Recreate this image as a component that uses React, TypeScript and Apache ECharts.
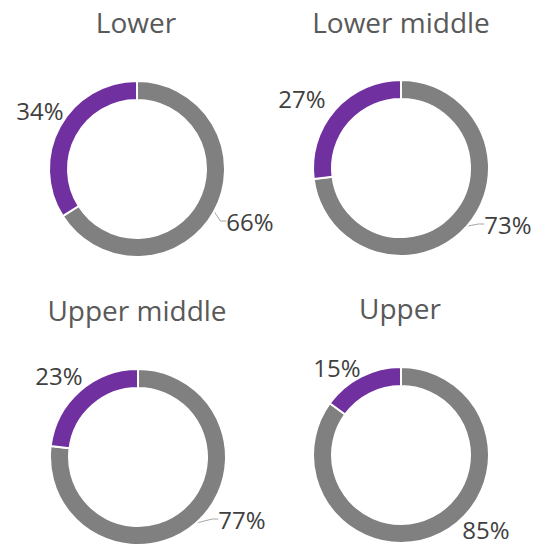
import React, { useEffect, useRef } from 'react';
import * as echarts from 'echarts';

// ---- data ----
const groups = ['Lower', 'Lower middle', 'Upper middle', 'Upper'];
const grayShare = [66, 73, 77, 85];
const purpleShare = [34, 27, 23, 15];

// ---- layout ----
const CENTERS: [number, number][] = [
  [137, 169],
  [401, 168],
  [138, 457],
  [401, 455],
];
const TITLE_CENTERS_X = [136, 401, 137, 400];
const TITLE_TOPS = [8, 8, 296, 294];
// label centre offsets from donut centre: [purple, gray]
const LABEL_OFFSETS: [number, number][][] = [
  [[-97, -59], [113, 52]],
  [[-99, -70], [107, 56]],
  [[-79, -82], [104, 62]],
  [[-64, -88], [85, 74]],
];
const GRAY_LINE = [true, true, true, false];

const PURPLE = '#7030A0';
const GRAY = '#808080';
const FONT = '"Open Sans", "Noto Sans", sans-serif';

export default function App() {
  const ref = useRef<HTMLDivElement>(null);
  useEffect(() => {
    if (!ref.current) return;
    const chart = echarts.init(ref.current, undefined, { renderer: 'svg' });
    const option: any = {
      animation: false,
      backgroundColor: '#ffffff',
      title: groups.map((g, i) => ({
        text: g,
        left: TITLE_CENTERS_X[i],
        top: TITLE_TOPS[i],
        padding: 0,
        textAlign: 'center',
        textStyle: { fontFamily: FONT, fontSize: 28, fontWeight: 'normal', color: '#595959' },
      })),
      series: groups.map((g, i) => ({
        type: 'pie',
        name: g,
        center: CENTERS[i],
        radius: [69, 88],
        startAngle: 90,
        clockwise: true,
        avoidLabelOverlap: false,
        itemStyle: { borderColor: '#ffffff', borderWidth: 2 },
        label: {
          show: true,
          position: 'outside',
          formatter: '{c}%',
          fontFamily: FONT,
          fontSize: 24,
          lineHeight: 24,
          color: '#404040',
        },
        labelLine: {
          show: true,
          length: 8,
          length2: 6,
          lineStyle: { color: '#A6A6A6', width: 1 },
        },
        labelLayout: (p: any) => {
          // dataIndex 0 = gray, 1 = purple
          const off = LABEL_OFFSETS[i][p.dataIndex === 0 ? 1 : 0];
          return {
            x: CENTERS[i][0] + off[0],
            y: CENTERS[i][1] + off[1],
            align: 'center',
            verticalAlign: 'middle',
          };
        },
        emphasis: { disabled: true },
        data: [
          { name: 'Other', value: grayShare[i], itemStyle: { color: GRAY }, labelLine: { show: GRAY_LINE[i] } },
          { name: 'Highlight', value: purpleShare[i], itemStyle: { color: PURPLE }, labelLine: { show: false } },
        ],
      })),
    };
    chart.setOption(option);
    return () => chart.dispose();
  }, []);
  return (
    <div
      ref={ref}
      style={{ position: 'absolute', left: 0, top: 0, width: 542, height: 546 }}
    />
  );
}
